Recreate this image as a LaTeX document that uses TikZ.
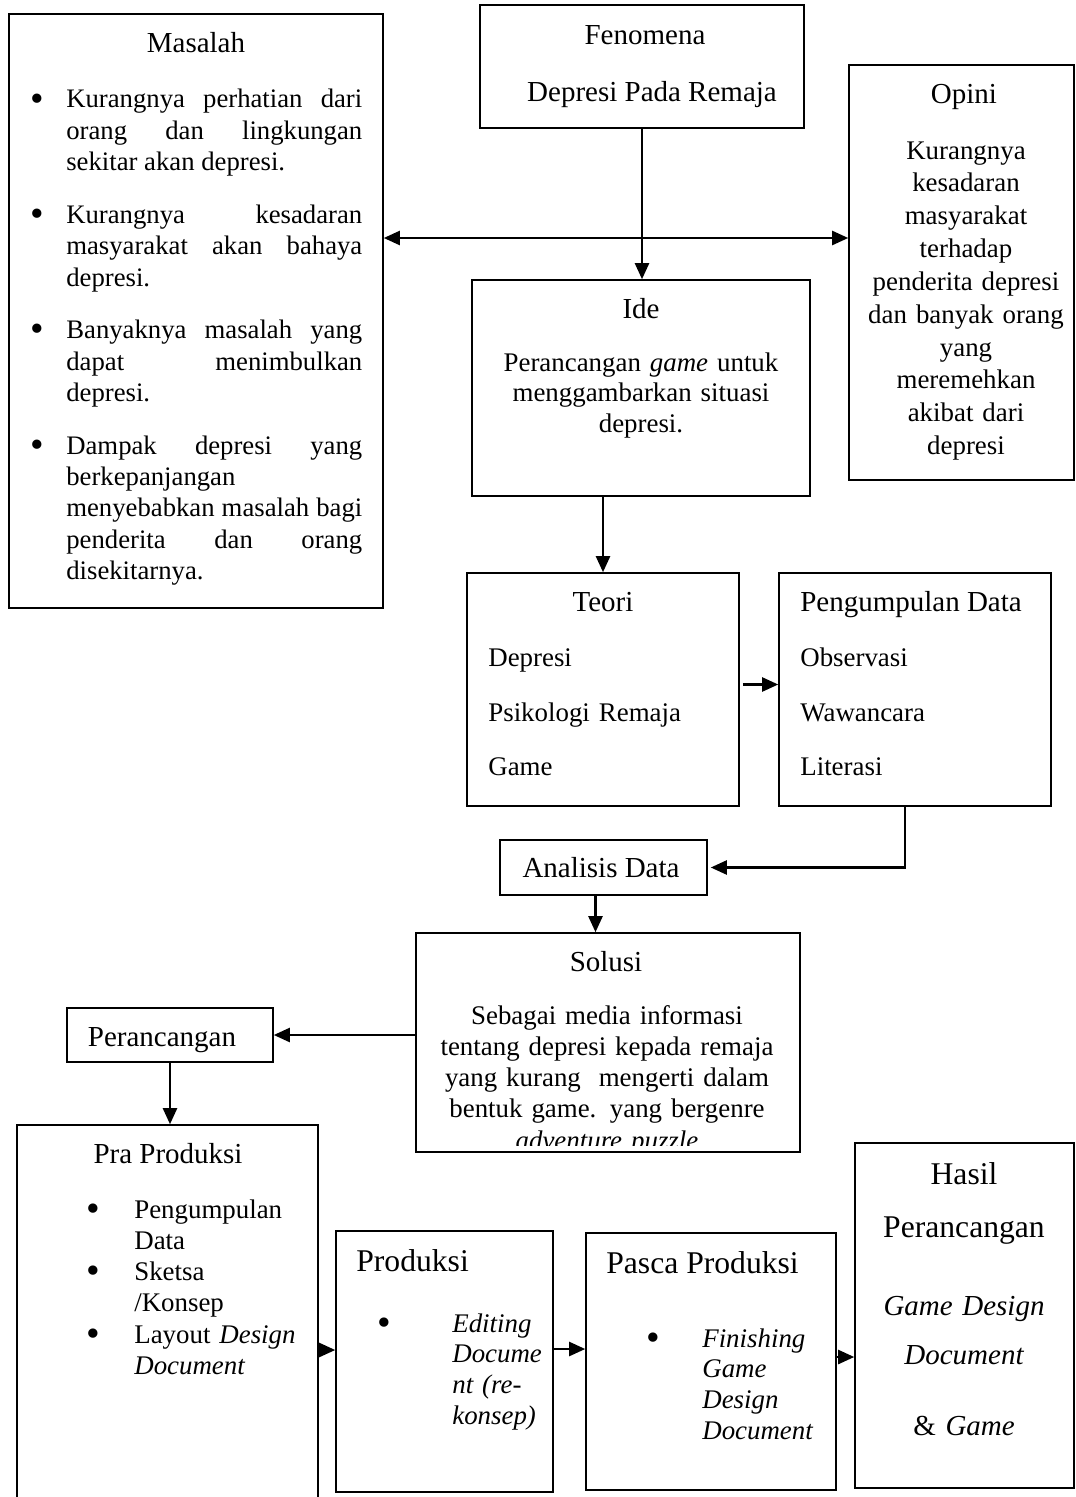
\documentclass[tikz,border=0pt]{standalone}
\usepackage{fontspec}
\usepackage{graphicx}
\setmainfont{Liberation Serif}
\usetikzlibrary{
    fit,
    calc,
    positioning,
    arrows.meta
}
\hyphenpenalty=10000
\tolerance=3000
\newcommand{\butir}[1]{\hangindent=#1\hangafter=1\makebox[#1][l]{\raisebox{-0.12em}{\scalebox{1.45}{\textbullet}}}}
\tikzset{
    box/.style = {
        draw,
        line width=0.9pt,
        inner sep=0pt
    },
    heading/.style = {
        inner sep=0pt,
        font=\fontsize{16.5pt}{19pt}\selectfont
    },
    bigheading/.style = {
        inner sep=0pt,
        font=\fontsize{18pt}{30.7pt}\selectfont
    },
    body/.style = {
        inner sep=0pt,
        font=\fontsize{15.3pt}{17.6pt}\selectfont
    },
    link/.style = {
        line width=1.3pt,
        -{Triangle[length=0.32cm,width=0.28cm]}
    },
    twolink/.style = {
        line width=1.3pt,
        {Triangle[length=0.32cm,width=0.28cm]}-{Triangle[length=0.32cm,width=0.28cm]}
    }
}
\begin{document}
\begin{tikzpicture}[x=0.02cm, y=-0.02cm]
    \useasboundingbox (0,0) rectangle (1075,1497);

    % kotak-kotak
    \node[box, fit={(9,14) (383,608)}] (masalah) {};
    \node[box, fit={(480,5) (804,128)}] (fenomena) {};
    \node[box, fit={(849,65) (1074,480)}] (opini) {};
    \node[box, fit={(472,280) (810,496)}] (ide) {};
    \node[box, fit={(467,573) (739,806)}] (teori) {};
    \node[box, fit={(779,573) (1051,806)}] (data) {};
    \node[box, fit={(500,840) (707,895)}] (analisis) {};
    \node[box, fit={(416,933) (800,1152)}] (solusi) {};
    \node[box, fit={(67,1008) (273,1062)}] (perancangan) {};
    \node[box, fit={(17,1125) (318,1520)}] (pra) {};
    \node[box, fit={(336,1231) (553,1492)}] (produksi) {};
    \node[box, fit={(586,1233) (836,1490)}] (pasca) {};
    \node[box, fit={(855,1143) (1074,1488)}] (hasil) {};

    % isi
    \node[heading, anchor=base] (masalahJudul) at (196,53) {Masalah};
    \node[body, anchor=base west, text width=6.64cm, align=justify, font=\fontsize{15.2pt}{17.9pt}\selectfont] (masalahIsi) at (30,108) {%
        \butir{0.72cm}Kurangnya perhatian dari\linebreak orang dan lingkungan\linebreak sekitar akan depresi.\par\vspace{0.42cm}
        \butir{0.72cm}Kurangnya kesadaran\linebreak masyarakat akan bahaya\linebreak depresi.\par\vspace{0.42cm}
        \butir{0.72cm}Banyaknya masalah yang\linebreak dapat menimbulkan\linebreak depresi.\par\vspace{0.42cm}
        \butir{0.72cm}Dampak depresi yang\linebreak berkepanjangan\newline menyebabkan masalah bagi\linebreak penderita dan orang\linebreak disekitarnya.\par};

    \node[heading, anchor=base] (fenomenaJudul) at (645,45) {Fenomena};
    \node[heading, anchor=base] (fenomenaIsi) at (652,102) {Depresi Pada Remaja};

    \node[heading, anchor=base] (opiniJudul) at (964,104) {Opini};
    \node[body, anchor=base, text width=4.2cm, align=center, font=\fontsize{15.3pt}{18.7pt}\selectfont] (opiniIsi) at (966,159)
        {Kurangnya\\kesadaran\\masyarakat\\terhadap\\penderita depresi\\dan banyak orang\\yang\\meremehkan\\akibat dari\\depresi};

    \node[heading, anchor=base] (ideJudul) at (641,318) {Ide};
    \node[body, anchor=base, text width=6.2cm, align=center] (ideIsi) at (641,371)
        {Perancangan \textit{game} untuk\\menggambarkan situasi\\depresi.};

    \node[heading, anchor=base] (teoriJudul) at (603,611) {Teori};
    \node[body, anchor=base west, text width=4.8cm, align=left, font=\fontsize{15.3pt}{31.3pt}\selectfont] (teoriIsi) at (488,666)
        {Depresi\\Psikologi Remaja\\Game};

    \node[heading, anchor=base west] (dataJudul) at (800,611) {Pengumpulan Data};
    \node[body, anchor=base west, text width=4.8cm, align=left, font=\fontsize{15.3pt}{31.3pt}\selectfont] (dataIsi) at (800,666)
        {Observasi\\Wawancara\\Literasi};

    \node[heading, anchor=base] (analisisJudul) at (601,877) {Analisis Data};

    \node[heading, anchor=base] (solusiJudul) at (606,971) {Solusi};
    \begin{scope}
        \clip (416,933) rectangle (800,1145);
        \node[body, anchor=base, text width=7.4cm, align=center, font=\fontsize{15.3pt}{17.8pt}\selectfont] (solusiIsi) at (607,1024)
            {Sebagai media informasi\\tentang depresi kepada remaja\\yang kurang\ \ mengerti dalam\\bentuk game. yang bergenre\\\textit{adventure puzzle}};
    \end{scope}

    \node[heading, anchor=base] (perancanganJudul) at (162,1046) {Perancangan};

    \node[heading, anchor=base] (praJudul) at (168,1163) {Pra Produksi};
    \node[body, anchor=base west, text width=4.62cm, align=left, font=\fontsize{15.3pt}{17.8pt}\selectfont] (praIsi) at (86,1218)
        {\butir{0.96cm}Pengumpulan\newline Data\par
         \butir{0.96cm}Sketsa\newline /Konsep\par
         \butir{0.96cm}Layout \textit{Design}\newline \textit{Document}\par};

    \node[bigheading, anchor=base west] (produksiJudul) at (356,1271) {Produksi};
    \node[body, anchor=base west, text width=3.5cm, align=left] (produksiIsi) at (377,1332)
        {\butir{1.5cm}\itshape Editing\newline Docume\newline nt (re-\newline konsep)\par};

    \node[bigheading, anchor=base west] (pascaJudul) at (606,1273) {Pasca Produksi};
    \node[body, anchor=base west, text width=3.78cm, align=left] (pascaIsi) at (646,1347)
        {\butir{1.12cm}\itshape Finishing\newline Game\newline Design\newline Document\par};

    \node[bigheading, anchor=base, text width=4.2cm, align=center] (hasilJudul) at (964,1184)
        {Hasil\\Perancangan};
    \node[body, anchor=base, text width=4.2cm, align=center, font=\fontsize{16.5pt}{27.9pt}\selectfont\itshape] (hasilIsi) at (964,1315)
        {Game Design\\Document\\[0.44cm]\upshape\&\ \itshape Game};

    % panah
    \coordinate (silang) at (642,238);
    \coordinate (p1) at (0,1350);
    \coordinate (p2) at (0,1349);
    \coordinate (p3) at (0,1357);

    \draw[link] (fenomena.south) -- (fenomena.south |- ide.north);
    \draw[twolink] (masalah.east |- silang) -- (opini.west |- silang);
    \draw[link] (teori.north |- ide.south) -- (teori.north);
    \draw[link] ([xshift=0.06cm, yshift=0.1cm]teori.east) -- ([yshift=0.1cm]data.west);
    \draw[link] ([xshift=-0.2cm]data.south) |- ([xshift=0.06cm]analisis.east);
    \draw[link] ([xshift=-0.16cm]analisis.south) -- ([xshift=-0.16cm]analisis.south |- solusi.north);
    \draw[link] (solusi.west |- perancangan.east) -- (perancangan.east);
    \draw[link] (perancangan.south) -- (perancangan.south |- pra.north);
    \draw[link] (pra.east |- p1) -- (produksi.west |- p1);
    \draw[link] (produksi.east |- p2) -- (pasca.west |- p2);
    \draw[link] (pasca.east |- p3) -- (hasil.west |- p3);
\end{tikzpicture}
\end{document}
